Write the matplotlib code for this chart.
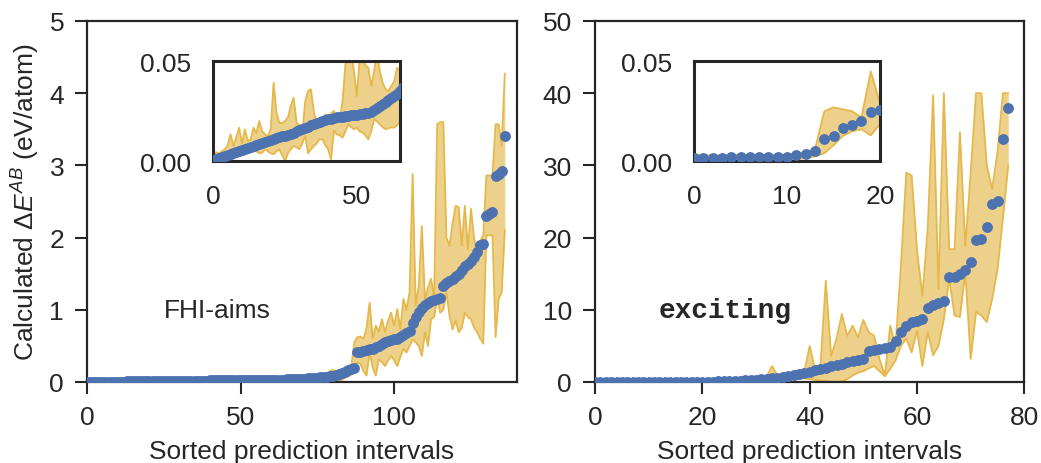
import matplotlib
matplotlib.use("Agg")
import matplotlib.pyplot as plt
import numpy as np

plt.rcParams['font.family'] = ['Liberation Sans', 'DejaVu Sans']
plt.rcParams['mathtext.fontset'] = 'custom'
plt.rcParams['mathtext.rm'] = 'Liberation Sans'
plt.rcParams['mathtext.it'] = 'Liberation Sans:italic'
plt.rcParams['mathtext.bf'] = 'Liberation Sans:bold'

# ---------------- FHI-aims (left panel) ----------------
fhi_calc = [
    0.0005, 0.001, 0.0015, 0.002, 0.0025, 0.003, 0.0035, 0.004, 0.0045, 0.005,
    0.0055, 0.006, 0.0065, 0.007, 0.0075, 0.008, 0.0085, 0.009, 0.0095, 0.0100,
    0.0105, 0.011, 0.0115, 0.012, 0.0125, 0.0128, 0.0132, 0.0138, 0.0144, 0.015,
    0.0156, 0.0162, 0.0168, 0.0174, 0.018, 0.0185, 0.019, 0.0195, 0.0200, 0.0205,
    0.021, 0.0213, 0.0216, 0.022, 0.0222, 0.0224, 0.0226, 0.0228, 0.0230, 0.0232,
    0.0234, 0.0236, 0.0238, 0.024, 0.0243, 0.0248, 0.0256, 0.0265, 0.0275, 0.0285,
    0.0295, 0.0305, 0.0315, 0.0325, 0.0335,
    0.035, 0.037, 0.039, 0.041, 0.043, 0.045, 0.047, 0.05, 0.053, 0.056,
    0.06, 0.064, 0.068, 0.072, 0.078, 0.085, 0.095, 0.105, 0.12, 0.14,
    0.16, 0.18, 0.20,
    0.41, 0.42, 0.43, 0.44, 0.45, 0.46, 0.48, 0.50, 0.53, 0.56,
    0.57, 0.58, 0.59, 0.60, 0.62, 0.65, 0.68, 0.70, 0.82, 0.90,
    0.97, 1.03, 1.07, 1.10, 1.12, 1.14, 1.15, 1.16, 1.33, 1.37,
    1.40, 1.43, 1.47, 1.50, 1.55, 1.60, 1.64, 1.68, 1.73, 1.80,
    1.90, 1.91, 2.30, 2.32, 2.35, 2.85, 2.88, 2.92, 3.41,
]
fhi_upper = [
    0.004, 0.0045, 0.004, 0.005, 0.006, 0.008, 0.0135, 0.0077, 0.012, 0.0168,
    0.009, 0.016, 0.0102, 0.011, 0.0168, 0.014, 0.0202, 0.015, 0.0135, 0.0127,
    0.016, 0.0393, 0.0243, 0.0193, 0.019, 0.0202, 0.022, 0.028, 0.0318, 0.0193,
    0.018, 0.0143, 0.030, 0.0352, 0.036, 0.025, 0.0185, 0.0218, 0.020, 0.0235,
    0.021, 0.024, 0.0252, 0.022, 0.0202, 0.030, 0.0485, 0.053, 0.055, 0.045,
    0.0327, 0.052, 0.051, 0.048, 0.0468, 0.0377, 0.045, 0.054, 0.045, 0.0393,
    0.036, 0.0352, 0.0377, 0.040, 0.0468,
    0.045, 0.05, 0.045, 0.055, 0.05, 0.06, 0.055, 0.065, 0.06, 0.07,
    0.075, 0.08, 0.09, 0.12, 0.15, 0.17, 0.13, 0.16, 0.18, 0.2,
    0.19, 0.2, 0.55,
    0.62, 0.63, 0.6, 0.75, 1.10, 0.6, 0.78, 0.7, 0.87, 0.69,
    0.85, 0.96, 0.78, 1.01, 0.73, 1.15, 1.0, 1.24, 2.88, 1.06,
    1.33, 2.16, 1.15, 1.30, 1.43, 1.15, 3.57, 3.6, 3.6, 2.0,
    1.89, 2.2, 2.44, 2.42, 1.89, 2.44, 1.84, 2.4, 2.0, 1.75,
    1.95, 2.03, 2.86, 2.86, 2.86, 3.57, 3.57, 3.27, 4.27,
]
fhi_lower = [
    0.0005, 0.0005, 0.001, 0.001, 0.0015, 0.0015, 0.002, 0.002, 0.0025, 0.003,
    0.003, 0.0035, 0.004, 0.005, 0.0068, 0.005, 0.004, 0.0043, 0.006, 0.005,
    0.004, 0.0035, 0.005, 0.006, 0.003, 0.0002, 0.004, 0.006, 0.0077, 0.007,
    0.006, 0.009, 0.0127, 0.004, 0.006, 0.0077, 0.009, 0.011, 0.011, 0.008,
    0.006, 0.001, 0.0152, 0.0135, 0.013, 0.0118, 0.015, 0.0185, 0.017, 0.016,
    0.0168, 0.015, 0.0143, 0.013, 0.011, 0.015, 0.021, 0.020, 0.0185, 0.017,
    0.016, 0.0165, 0.017, 0.0168, 0.018,
    0.02, 0.025, 0.025, 0.03, 0.03, 0.03, 0.035, 0.035, 0.04, 0.04,
    0.045, 0.045, 0.04, 0.03, 0.02, 0.01, 0.0, 0.02, 0.03, 0.06,
    0.08, 0.1, 0.15,
    0.27, 0.25, 0.15, 0.09, 0.41, 0.2, 0.09, 0.31, 0.28, 0.22,
    0.3, 0.36, 0.3, 0.22, 0.35, 0.46, 0.41, 0.5, 0.59, 0.55,
    0.50, 0.36, 0.69, 0.50, 0.87, 0.9, 1.15, 0.96, 1.0, 1.24,
    0.92, 0.73, 0.85, 0.69, 0.75, 0.96, 0.9, 0.87, 0.75, 0.69,
    0.6, 0.53, 2.03, 2.03, 2.03, 0.62, 1.15, 1.24, 2.1,
]

# ---------------- exciting (right panel) ----------------
exc_calc = [
    0.0018, 0.0018, 0.0018, 0.0018, 0.0023, 0.0023, 0.0023, 0.0023, 0.0023, 0.0023,
    0.0023, 0.003, 0.0035, 0.005, 0.011, 0.0127, 0.0168, 0.018, 0.0202, 0.0247,
    0.0255, 0.035, 0.05, 0.07, 0.09, 0.12, 0.15, 0.18, 0.22, 0.26,
    0.3, 0.35, 0.42, 0.5, 0.6, 0.7, 0.8, 0.95, 1.1, 1.25,
    1.4, 1.6, 1.8, 2.0, 2.15, 2.3, 2.5, 2.75, 2.9, 3.05,
    3.2, 4.35, 4.45, 4.6, 4.75, 4.85, 5.7, 6.9, 7.8, 8.3,
    8.5, 8.7, 10.3, 10.6, 10.9, 11.2, 14.5, 14.6, 14.9, 15.5,
    16.6, 19.6, 19.8, 21.4, 24.6, 25.1, 33.7, 38.0,
]
exc_upper = [
    0.0035, 0.003, 0.003, 0.003, 0.0032, 0.0032, 0.0032, 0.0032, 0.0032, 0.0032,
    0.0033, 0.0038, 0.0042, 0.006, 0.025, 0.027, 0.026, 0.025, 0.022, 0.045,
    0.029, 0.05, 0.07, 0.09, 0.12, 0.15, 0.2, 0.25, 0.3, 0.4,
    0.5, 0.6, 0.8, 2.2, 0.9, 1.2, 1.3, 1.2, 1.5, 1.4,
    5.0, 1.7, 2.2, 14.0, 3.6, 6.0, 9.4, 6.4, 7.8, 6.2,
    8.6, 6.9, 6.4, 3.2, 0.9, 7.8, 5.0, 16.1, 29.0, 28.6,
    18.3, 11.9, 21.3, 39.7, 12.9, 40.0, 18.4, 18.4, 34.6, 18.8,
    29.0, 40.0, 40.0, 30.0, 26.7, 31.8, 40.0, 40.0,
]
exc_lower = [
    0.0008, 0.0008, 0.0008, 0.0008, 0.0009, 0.0009, 0.0009, 0.0009, 0.0009, 0.0009,
    0.001, 0.0012, 0.0015, 0.0025, 0.004, 0.008, 0.0127, 0.015, 0.016, 0.013,
    0.0185, 0.02, 0.03, 0.04, 0.05, 0.06, 0.08, 0.1, 0.12, 0.14,
    0.16, 0.18, 0.2, 0.22, 0.25, 0.3, 0.35, 0.4, 0.45, 0.5,
    0.4, 0.3, 0.2, 0.15, 0.05, 0.0, 0.1, 0.4, 0.9, 1.3,
    1.5, 1.9, 2.2, 1.5, 0.8, 1.8, 3.0, 5.0, 6.0, 4.1,
    7.1, 2.2, 6.9, 3.7, 5.0, 8.7, 14.3, 9.2, 9.0, 15.2,
    3.2, 9.7, 9.2, 8.3, 11.5, 15.6, 22.6, 30.0,
]

BLUE = '#4C72B0'
FILL = '#EDD089'
EDGE = '#E5B84C'
DARK = '#262626'
FS = 19


def draw(ax, calc, lo, up):
    x = np.arange(len(calc))
    ax.fill_between(x, lo, up, color=FILL, lw=0, zorder=1)
    ax.plot(x, up, color=EDGE, lw=1.3, zorder=2)
    ax.plot(x, lo, color=EDGE, lw=1.3, zorder=2)
    ax.plot(x, calc, 'o', color=BLUE, ms=7.8, mew=0, zorder=3)


def style(ax, lw, inset=False):
    for s in ax.spines.values():
        s.set_linewidth(lw)
        s.set_color(DARK)
    if inset:
        ax.tick_params(length=0, pad=16, labelsize=FS, colors=DARK)
    else:
        ax.tick_params(direction='out', length=8.5, width=1.5, pad=8,
                       labelsize=FS, colors=DARK)


fig = plt.figure(figsize=(10.41, 4.64), dpi=100)
axL = fig.add_axes([0.0836, 0.1746, 0.4131, 0.778])
axR = fig.add_axes([0.5716, 0.1746, 0.4124, 0.778])

draw(axL, fhi_calc, fhi_lower, fhi_upper)
axL.set_xlim(0, 140)
axL.set_ylim(0, 5)
axL.set_xticks([0, 50, 100])
axL.set_yticks([0, 1, 2, 3, 4, 5])
style(axL, 1.6)
axL.set_xlabel('Sorted prediction intervals', fontsize=FS, color=DARK, labelpad=7)
axL.set_ylabel(r'Calculated $\Delta E^{AB}$ (eV/atom)', fontsize=FS, color=DARK,
               labelpad=5)
axL.text(25, 1.0, 'FHI-aims', fontsize=FS, va='center', color=DARK)

draw(axR, exc_calc, exc_lower, exc_upper)
axR.set_xlim(0, 80)
axR.set_ylim(0, 50)
axR.set_xticks([0, 20, 40, 60, 80])
axR.set_yticks([0, 10, 20, 30, 40, 50])
style(axR, 1.6)
axR.set_xlabel('Sorted prediction intervals', fontsize=FS, color=DARK, labelpad=7)
axR.text(11.8, 10.0, 'exciting', fontsize=20, va='center', color=DARK,
         family=['Liberation Mono', 'DejaVu Sans Mono'], weight='bold')

insL = fig.add_axes([0.2049, 0.6502, 0.1793, 0.2155])
draw(insL, fhi_calc, fhi_lower, fhi_upper)
insL.set_xlim(0, 65)
insL.set_ylim(0, 0.05)
insL.set_xticks([0, 50])
insL.set_yticks([0, 0.05])
insL.set_yticklabels(['0.00', '0.05'])
style(insL, 2.2, inset=True)

insR = fig.add_axes([0.6667, 0.6502, 0.1787, 0.2155])
draw(insR, exc_calc, exc_lower, exc_upper)
insR.set_xlim(0, 20)
insR.set_ylim(0, 0.05)
insR.set_xticks([0, 10, 20])
insR.set_yticks([0, 0.05])
insR.set_yticklabels(['0.00', '0.05'])
style(insR, 2.2, inset=True)

fig.savefig('out.png', dpi=100)
